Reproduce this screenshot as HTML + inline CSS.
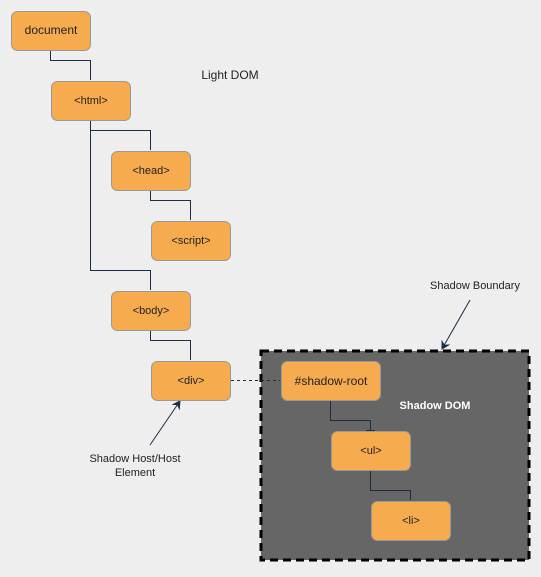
<!DOCTYPE html><html><head><style>
body{margin:0;background:#eeeeee;width:541px;height:572px;overflow:hidden}
</style></head><body>
<svg width="541" height="572" xmlns="http://www.w3.org/2000/svg" font-family="Liberation Sans, sans-serif" font-size="11">
<defs><marker id="a" markerWidth="10" markerHeight="10" refX="8" refY="5" orient="auto" markerUnits="userSpaceOnUse"><path d="M0,0 L9,5 L0,10 L3,5z" fill="#1b2c44"/></marker></defs>
<rect x="0" y="0" width="541" height="572" fill="#eeeeee"/>
<rect x="261" y="351" width="268" height="209" fill="#666" stroke="#000" stroke-width="3" stroke-dasharray="8,5"/>
<g fill="none" stroke="#1b2c44" stroke-width="1">
<path d="M50.5 51V60.5H90.5V80"/>
<path d="M90.5 121V130.5H150.5V150"/>
<path d="M150.5 191V200.5H190.5V220"/>
<path d="M90.5 130V270.5H150.5V290"/>
<path d="M150.5 331V340.5H190.5V360"/>
<path d="M330.5 401V420.5H370.5V430M366 430.5H375"/>
<path d="M370.5 471V490.5H410.5V500"/>
<path d="M231 380.5H280" stroke-dasharray="3,3"/>
<path d="M470 300L442 349" marker-end="url(#a)"/>
<path d="M150 445L180 401" marker-end="url(#a)"/>
</g>
<g fill="#f5ab4e" stroke="#999" stroke-width="1">
<rect x="11.5" y="11.5" width="79" height="39" rx="6"/>
<rect x="51.5" y="81.5" width="79" height="39" rx="6"/>
<rect x="111.5" y="151.5" width="79" height="39" rx="6"/>
<rect x="151.5" y="221.5" width="79" height="39" rx="6"/>
<rect x="111.5" y="291.5" width="79" height="39" rx="6"/>
<rect x="151.5" y="361.5" width="79" height="39" rx="6"/>
<rect x="281.5" y="361.5" width="99" height="39" rx="6"/>
<rect x="331.5" y="431.5" width="79" height="39" rx="6"/>
<rect x="371.5" y="501.5" width="79" height="39" rx="6"/>
</g>
<g fill="#222" text-anchor="middle">
<text x="51" y="34" font-size="12">document</text>
<text x="91" y="104">&lt;html&gt;</text>
<text x="151" y="174">&lt;head&gt;</text>
<text x="191" y="244">&lt;script&gt;</text>
<text x="151" y="314">&lt;body&gt;</text>
<text x="191" y="384">&lt;div&gt;</text>
<text x="331" y="385" font-size="12">#shadow-root</text>
<text x="371" y="454">&lt;ul&gt;</text>
<text x="411" y="524">&lt;li&gt;</text>
<text x="230" y="79" font-size="12">Light DOM</text>
<text x="475" y="289">Shadow Boundary</text>
<text x="135" y="462">Shadow Host/Host</text>
<text x="135" y="476">Element</text>
<text x="435" y="409" fill="#fff" font-weight="bold" font-size="11">Shadow DOM</text>
</g>
</svg>
</body></html>
